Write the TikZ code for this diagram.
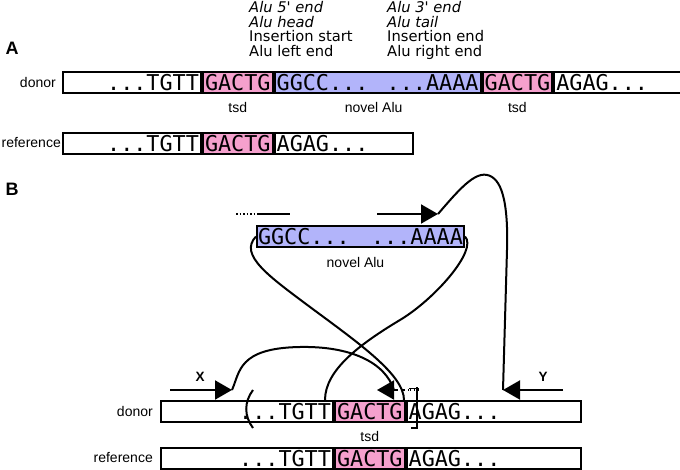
\documentclass[tikz,border=0pt]{standalone}
\usepackage{fontspec}
\usepackage{tikz}
\usetikzlibrary{arrows.meta}
\usetikzlibrary{positioning}
\definecolor{tsdpink}{RGB}{245,160,205}
\definecolor{aluviolet}{RGB}{178,180,250}
\newfontfamily\seqfam{DejaVu Sans Mono}
\newfontfamily\notefam{DejaVu Sans}
\newfontfamily\labfam{Liberation Sans}
\newcommand\seqsize{\seqfam\fontsize{21.8}{22}\selectfont}
\newcommand\notesize{\notefam\fontsize{14.7}{14.7}\selectfont}
\newcommand\labsize{\labfam\fontsize{14}{14}\selectfont}

\begin{document}
\begin{tikzpicture}[x=1pt,y=-1pt,
	seg/.style={draw, line width=2pt, fill=white, minimum height=21pt, inner xsep=2pt, inner ysep=0pt, anchor=north west, font=\seqsize},
	tsd/.style={seg, fill=tsdpink},
	alu/.style={seg, fill=aluviolet},
	lab/.style={font=\labsize, inner sep=0pt},
	note/.style={font=\notesize, align=left, inner sep=0pt, anchor=north west},
	panel/.style={font=\labfam\bfseries\fontsize{18}{18}\selectfont, inner sep=0pt},
	readlab/.style={font=\labfam\bfseries\fontsize{13.5}{14}\selectfont, inner sep=0pt},
	read/.style={line width=2pt, -{Triangle[length=17pt,width=19pt]}},
	link/.style={line width=2pt}]
	\useasboundingbox (0,0) rectangle (680,470);

	% A: donor and reference
	\node[panel] (panA) at (12,48) {A};
	\node[note] (noteL) at (249,1) {\textit{Alu 5\textquotesingle\ end}\\ \textit{Alu head}\\ Insertion start\\ Alu left end};
	\node[note] (noteR) at (387,1) {\textit{Alu 3\textquotesingle\ end}\\ \textit{Alu tail}\\ Insertion end\\ Alu right end};

	\node[seg, minimum width=138pt, text width=134pt, align=right] (donA1) at (62,71) {...TGTT};
	\node[tsd, minimum width=67pt] (donA2) at (donA1.north east) {GACTG};
	\node[alu, minimum width=206pt, text width=202pt, align=left] (donA3) at (donA2.north east) {GGCC...\hfill...AAAA};
	\node[tsd, minimum width=68pt] (donA4) at (donA3.north east) {GACTG};
	\node[seg, minimum width=134pt, text width=130pt, align=left] (donA5) at (donA4.north east) {AGAG...};
	\node[lab, anchor=east] (donAlab) at (56,82) {donor};
	\node[lab, below=8pt of donA2] (tsdA1) {tsd};
	\node[lab, below=8pt of donA3, xshift=-4pt] (novelA) {novel Alu};
	\node[lab, below=8pt of donA4] (tsdA2) {tsd};

	\node[seg, minimum width=138pt, text width=134pt, align=right] (refA1) at (62,132) {...TGTT};
	\node[tsd, minimum width=67pt] (refA2) at (refA1.north east) {GACTG};
	\node[seg, minimum width=138pt, text width=134pt, align=left] (refA3) at (refA2.north east) {AGAG...};
	\node[lab, anchor=east] (refAlab) at (61,143) {reference};

	% B: reads and where they map
	\node[panel] (panB) at (12,189) {B};
	\node[alu, minimum width=207pt, text width=205pt, inner xsep=1pt, align=left] (aluB) at (256,225) {GGCC...\hfill...AAAA};
	\node[lab, below=9pt of aluB, xshift=-5pt] (novelB) {novel Alu};

	\node[seg, minimum width=172pt, text width=168pt, align=right] (donB1) at (160,400) {...TGTT};
	\node[tsd, minimum width=67pt] (donB2) at (donB1.north east) {GACTG};
	\node[seg, minimum width=174pt, text width=170pt, align=left] (donB3) at (donB2.north east) {AGAG...};
	\node[lab, anchor=east] (donBlab) at (153,411) {donor};
	\node[lab, below=8pt of donB2] (tsdB) {tsd};

	\node[seg, minimum width=172pt, text width=168pt, align=right] (refB1) at (160,447) {...TGTT};
	\node[tsd, minimum width=67pt] (refB2) at (refB1.north east) {GACTG};
	\node[seg, minimum width=174pt, text width=170pt, align=left] (refB3) at (refB2.north east) {AGAG...};
	\node[lab, anchor=east] (refBlab) at (153,458) {reference};

	\coordinate (dotL) at (236,214);
	\coordinate (dotM) at (257,214);
	\coordinate (dotR) at (290,214);
	\draw[line width=1.5pt, dotted] (dotL) -- (dotM);
	\draw[link] (dotM) -- (dotR);

	\coordinate (readA) at (377,214);
	\coordinate (readAtip) at (438,214);
	\coordinate (readX) at (170,390);
	\coordinate (readXtip) at (232,390);
	\coordinate (readY) at (563,390);
	\coordinate (readYtip) at (503,390);
	\coordinate (splitEnd) at (394,390);
	\coordinate (splitTip) at (377,390);
	\coordinate (splitTail) at (409,390);
	\coordinate (insStart) at (325,400);
	\coordinate (insEnd) at (404,400);

	\draw[read] (readA) -- (readAtip);
	\draw[read] (readX) -- (readXtip);
	\draw[read] (readY) -- (readYtip);
	\draw[read] (splitEnd) -- (splitTip);
	\draw[line width=1.5pt, dash pattern=on 4pt off 3pt] (splitEnd) -- (splitTail);
	\draw[line width=1pt] (409,388) -- (419,388);
	\foreach \t in {410,414,418}
		\draw[line width=1pt] (\t,388) -- (\t,391);
	\node[readlab] (labX) at (200,377) {X};
	\node[readlab] (labY) at (543,377) {Y};

	% breakpoints
	\draw[link] (253,390) .. controls (244,402) and (244,416) .. (253,428);
	\draw[link] (417,387) -- (417,428) -- ++(-6,0);

	\draw[link] (aluB.west) .. controls (238,255) and (270,277) .. (310,307) .. controls (360,344) and (404,375) .. (insEnd);
	\draw[link] (aluB.east) .. controls (478,250) and (435,299) .. (400,320) .. controls (360,344) and (325,370) .. (insStart);
	\draw[link] (readXtip) .. controls (240,372) and (238,348) .. (300,347) .. controls (350,346) and (385,362) .. (splitEnd);
	\draw[link] (readAtip) .. controls (462,186) and (478,168) .. (492,177) .. controls (505,185) and (508,215) .. (507,250) -- (readYtip);
\end{tikzpicture}
\end{document}
